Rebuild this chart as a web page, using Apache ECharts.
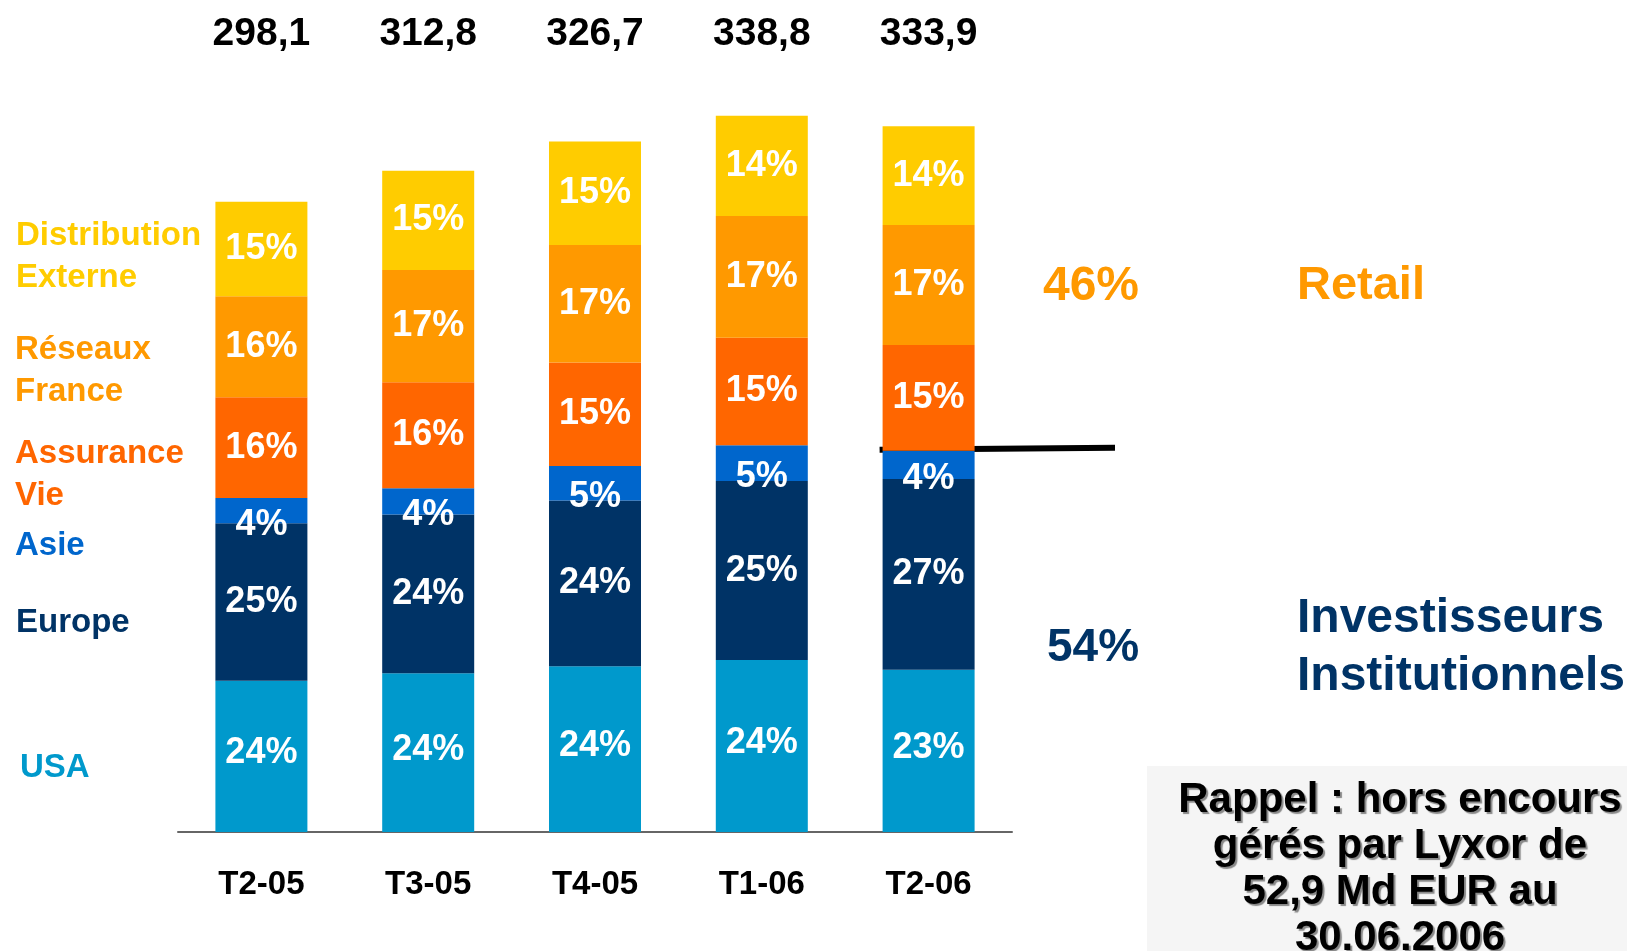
<!DOCTYPE html>
<html>
<head>
<meta charset="utf-8">
<title>Encours par clientèle</title>
<script src="https://cdn.jsdelivr.net/npm/echarts@6/dist/echarts.min.js"></script>
<style>
  html, body { margin: 0; padding: 0; background: #fff; }
  #main { width: 1627px; height: 951px; }
</style>
</head>
<body>
<div id="main"></div>
<script>
// trimestres
var categories = ['T2-05', 'T3-05', 'T4-05', 'T1-06', 'T2-06'];
// encours totaux (Md EUR)
var totals = [298.1, 312.8, 326.7, 338.8, 333.9];
// répartition en %
var usaPct = [24, 24, 24, 24, 23];
var europePct = [25, 24, 24, 25, 27];
var asiePct = [4, 4, 5, 5, 4];
var assurancePct = [16, 16, 15, 15, 15];
var reseauxPct = [16, 17, 17, 17, 17];
var distributionPct = [15, 15, 15, 14, 14];

var FONT = '"Liberation Sans", Arial, sans-serif';

var chart = echarts.init(document.getElementById('main'));

// une série empilée par segment
function makeSeries(name, pct, color, offset) {
  return {
    name: name,
    type: 'bar',
    stack: 'total',
    barWidth: 92,
    itemStyle: { color: color },
    label: {
      show: true,
      position: 'inside',
      offset: offset || [0, 0],
      color: '#fff',
      fontFamily: FONT,
      fontWeight: 'bold',
      fontSize: 36,
      formatter: function (p) { return pct[p.dataIndex] + '%'; }
    },
    data: totals.map(function (t, i) { return t * pct[i] / 100; })
  };
}

var option = {
  animation: false,
  grid: { left: 178, right: 615, top: 71, bottom: 119 },
  xAxis: [
    {
      type: 'category',
      data: categories,
      axisLine: { show: true, lineStyle: { color: '#666', width: 2 } },
      axisTick: { show: false },
      axisLabel: {
        color: '#000',
        fontFamily: FONT,
        fontWeight: 'bold',
        fontSize: 33,
        margin: 36
      }
    },
    {
      // totaux affichés en haut
      type: 'category',
      position: 'top',
      data: totals.map(function (t) { return t.toFixed(1).replace('.', ','); }),
      axisLine: { show: false },
      axisTick: { show: false },
      axisLabel: {
        color: '#000',
        fontFamily: FONT,
        fontWeight: 'bold',
        fontSize: 39,
        margin: 17
      }
    }
  ],
  yAxis: {
    type: 'value',
    min: 0,
    max: 360,
    show: false,
    splitLine: { show: false }
  },
  series: [
    makeSeries('USA', usaPct, '#0099CC', [0, -3]),
    makeSeries('Europe', europePct, '#003366'),
    makeSeries('Asie', asiePct, '#0066CC', [0, 14]),
    makeSeries('Assurance Vie', assurancePct, '#FF6600'),
    makeSeries('Réseaux France', reseauxPct, '#FF9900'),
    makeSeries('Distribution Externe', distributionPct, '#FFCC00')
  ]
};
chart.setOption(option);

// ligne de séparation retail / institutionnels sur le dernier trimestre
var last = categories.length - 1;
var instit = totals[last] * (usaPct[last] + europePct[last] + asiePct[last]) / 100;
var pt = chart.convertToPixel({ gridIndex: 0 }, [last, instit]);

function txt(x, y, s, color, size, align) {
  return {
    type: 'text',
    x: x, y: y,
    style: {
      text: s,
      fill: color,
      font: 'bold ' + size + 'px ' + FONT,
      textAlign: align || 'left',
      textVerticalAlign: 'middle',
      lineHeight: size * 1.25
    }
  };
}

chart.setOption({
  graphic: [
    {
      type: 'line',
      shape: { x1: pt[0] - 49, y1: pt[1] - 1, x2: 1115, y2: pt[1] - 3 },
      style: { stroke: '#000', lineWidth: 6 }
    },
    // libellés à gauche
    txt(16, 257, 'Distribution\nExterne', '#FFCC00', 33),
    txt(15, 371, 'Réseaux\nFrance', '#FF9900', 33),
    txt(15, 475, 'Assurance\nVie', '#FF6600', 33),
    txt(15, 546, 'Asie', '#0066CC', 33),
    txt(16, 623, 'Europe', '#003366', 33),
    txt(20, 768, 'USA', '#0099CC', 33),
    // à droite
    txt(1091, 287, '46%', '#FF9900', 48, 'center'),
    txt(1093, 648, '54%', '#003366', 46, 'center'),
    txt(1297, 286, 'Retail', '#FF9900', 47),
    {
      type: 'text',
      x: 1297, y: 648,
      style: {
        text: 'Investisseurs\nInstitutionnels',
        fill: '#003366',
        font: 'bold 48px ' + FONT,
        textVerticalAlign: 'middle',
        lineHeight: 58
      }
    },
    {
      type: 'rect',
      shape: { x: 1147, y: 766, width: 480, height: 185 },
      style: { fill: '#F5F5F5' }
    },
    {
      type: 'text',
      x: 1400, y: 869,
      style: {
        text: 'Rappel : hors encours\ngérés par Lyxor de\n52,9 Md EUR au\n30.06.2006',
        fill: '#000',
        font: 'bold 42px ' + FONT,
        textAlign: 'center',
        textVerticalAlign: 'middle',
        lineHeight: 46,
        textShadowColor: '#888',
        textShadowOffsetX: 2,
        textShadowOffsetY: 2,
        textShadowBlur: 1
      }
    }
  ]
});
</script>
</body>
</html>
